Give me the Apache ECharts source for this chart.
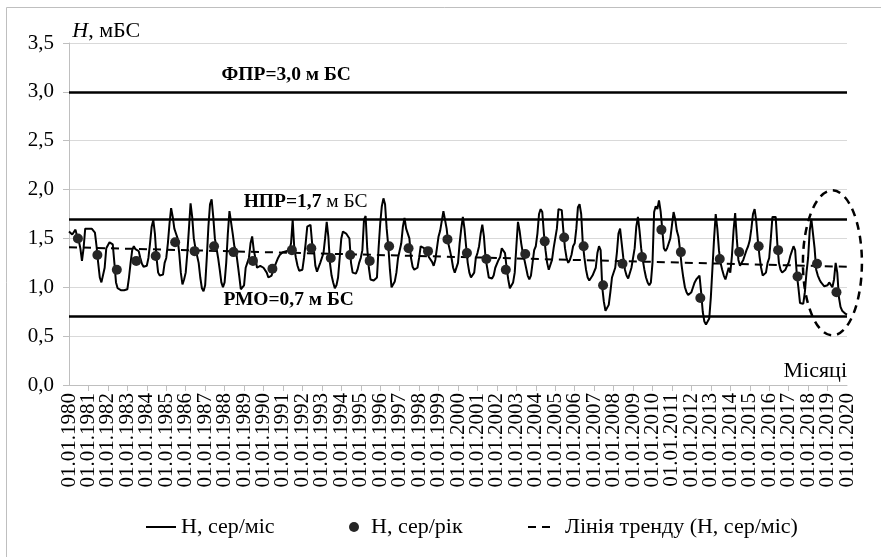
<!DOCTYPE html>
<html>
<head>
<meta charset="utf-8">
<script src="https://cdn.jsdelivr.net/npm/echarts@6/dist/echarts.min.js"></script>
<style>
  html, body { margin: 0; padding: 0; background: #ffffff; }
  #chart { width: 881px; height: 557px; }
</style>
</head>
<body>
<div id="chart"></div>
<script>
// Groundwater level H (m BS), monthly means 01.1980 – 01.2020
const startYear = 1980;
const endYear = 2020;

const monthlyLevel = [
  1.57, 1.55, 1.54, 1.56, 1.59, 1.52, 1.48, 1.40, 1.27, 1.40, 1.60, 1.58, // 1980
  1.60, 1.58, 1.60, 1.59, 1.56, 1.42, 1.25, 1.10, 1.05, 1.04, 1.20, 1.40, // 1981
  1.40, 1.46, 1.47, 1.44, 1.25, 1.05, 0.99, 0.98, 0.97, 0.98, 0.97, 0.99, // 1982
  0.98, 1.10, 1.25, 1.38, 1.42, 1.39, 1.41, 1.37, 1.30, 1.24, 1.21, 1.22, // 1983
  1.22, 1.30, 1.45, 1.62, 1.69, 1.55, 1.30, 1.15, 1.12, 1.12, 1.13, 1.25, // 1984
  1.30, 1.45, 1.65, 1.81, 1.72, 1.60, 1.55, 1.50, 1.35, 1.15, 1.03, 1.08, // 1985
  1.15, 1.35, 1.60, 1.86, 1.72, 1.50, 1.40, 1.38, 1.25, 1.10, 0.99, 0.96, // 1986
  1.02, 1.30, 1.62, 1.85, 1.90, 1.72, 1.50, 1.40, 1.30, 1.18, 1.05, 1.00, // 1987
  1.05, 1.25, 1.55, 1.78, 1.80, 1.55, 1.42, 1.38, 1.25, 1.12, 0.98, 1.00, // 1988
  1.02, 1.20, 1.25, 1.30, 1.45, 1.52, 1.38, 1.30, 1.20, 1.18, 1.22, 1.21, // 1989
  1.20, 1.22, 1.15, 1.10, 1.08, 1.12, 1.18, 1.22, 1.26, 1.30, 1.33, 1.35, // 1990
  1.36, 1.37, 1.37, 1.36, 1.38, 1.45, 1.69, 1.40, 1.30, 1.22, 1.17, 1.16, // 1991
  1.18, 1.30, 1.45, 1.62, 1.62, 1.64, 1.45, 1.40, 1.22, 1.16, 1.18, 1.25, // 1992
  1.30, 1.35, 1.50, 1.67, 1.52, 1.25, 1.12, 1.05, 0.99, 1.02, 1.10, 1.30, // 1993
  1.50, 1.57, 1.56, 1.55, 1.54, 1.50, 1.25, 1.15, 1.13, 1.14, 1.18, 1.25, // 1994
  1.30, 1.38, 1.69, 1.73, 1.40, 1.20, 1.08, 1.06, 1.07, 1.08, 1.10, 1.40, // 1995
  1.65, 1.83, 1.91, 1.85, 1.60, 1.42, 1.18, 1.00, 0.99, 1.06, 1.15, 1.30, // 1996
  1.30, 1.45, 1.62, 1.71, 1.60, 1.59, 1.50, 1.30, 1.21, 1.18, 1.17, 1.20, // 1997
  1.30, 1.42, 1.44, 1.40, 1.38, 1.36, 1.31, 1.30, 1.26, 1.22, 1.28, 1.40, // 1998
  1.52, 1.58, 1.68, 1.78, 1.76, 1.60, 1.45, 1.38, 1.30, 1.20, 1.15, 1.16, // 1999
  1.25, 1.45, 1.60, 1.72, 1.60, 1.42, 1.25, 1.15, 1.10, 1.12, 1.15, 1.30, // 2000
  1.35, 1.42, 1.55, 1.64, 1.52, 1.30, 1.20, 1.10, 1.08, 1.09, 1.12, 1.20, // 2001
  1.22, 1.28, 1.31, 1.40, 1.42, 1.35, 1.20, 1.08, 0.99, 0.97, 1.05, 1.15, // 2002
  1.42, 1.67, 1.58, 1.45, 1.35, 1.28, 1.20, 1.12, 1.08, 1.12, 1.25, 1.38, // 2003
  1.42, 1.55, 1.75, 1.80, 1.77, 1.55, 1.38, 1.25, 1.18, 1.20, 1.28, 1.40, // 2004
  1.38, 1.60, 1.80, 1.82, 1.79, 1.58, 1.40, 1.30, 1.25, 1.28, 1.33, 1.42, // 2005
  1.45, 1.60, 1.82, 1.85, 1.75, 1.45, 1.30, 1.18, 1.10, 1.07, 1.05, 1.12, // 2006
  1.10, 1.20, 1.35, 1.42, 1.38, 1.00, 0.85, 0.76, 0.75, 0.82, 0.95, 1.10, // 2007
  1.12, 1.20, 1.35, 1.55, 1.60, 1.45, 1.30, 1.18, 1.12, 1.09, 1.10, 1.20, // 2008
  1.18, 1.40, 1.62, 1.72, 1.58, 1.40, 1.28, 1.18, 1.10, 1.05, 1.02, 1.05, // 2009
  1.25, 1.77, 1.83, 1.80, 1.89, 1.78, 1.60, 1.40, 1.37, 1.40, 1.42, 1.50, // 2010
  1.52, 1.77, 1.70, 1.58, 1.52, 1.38, 1.22, 1.10, 1.00, 0.95, 0.92, 0.94, // 2011
  0.95, 1.00, 1.05, 1.08, 1.10, 1.12, 0.95, 0.75, 0.65, 0.62, 0.64, 0.68, // 2012
  0.90, 1.20, 1.50, 1.75, 1.60, 1.38, 1.25, 1.18, 1.12, 1.08, 1.10, 1.20, // 2013
  1.15, 1.32, 1.58, 1.76, 1.50, 1.28, 1.22, 1.25, 1.28, 1.33, 1.38, 1.42, // 2014
  1.48, 1.60, 1.75, 1.80, 1.68, 1.48, 1.32, 1.20, 1.12, 1.12, 1.15, 1.25, // 2015
  1.30, 1.50, 1.72, 1.73, 1.72, 1.45, 1.25, 1.18, 1.15, 1.16, 1.18, 1.22, // 2016
  1.25, 1.32, 1.37, 1.42, 1.38, 1.14, 1.00, 0.84, 0.82, 0.83, 0.95, 1.15, // 2017
  1.30, 1.58, 1.70, 1.68, 1.40, 1.18, 1.12, 1.08, 1.05, 1.03, 1.01, 1.00, // 2018
  1.02, 1.05, 1.04, 1.00, 1.08, 1.25, 1.15, 0.90, 0.80, 0.76, 0.74, 0.73, // 2019
  0.72                                                                    // 2020
];

// Annual means, 1980 – 2019
const annualLevel = [
  1.50, 1.33, 1.18, 1.27, 1.32, 1.46, 1.37, 1.42, 1.36, 1.27,
  1.19, 1.38, 1.40, 1.30, 1.33, 1.27, 1.42, 1.40, 1.37, 1.49,
  1.35, 1.29, 1.18, 1.34, 1.47, 1.51, 1.42, 1.02, 1.24, 1.31,
  1.59, 1.36, 0.89, 1.29, 1.36, 1.42, 1.38, 1.11, 1.24, 0.95
];

// Linear trend of the monthly series: value at 01.1980 and at 01.2020
const trendLevel = [1.41, 1.21];

// Characteristic levels
const referenceLevels = [3.0, 1.7, 0.7];
const referenceNames = ['ФПР', 'НПР', 'РМО'];

const yTicks = { min: 0, max: 3.5, step: 0.5 };

const seriesNames = ['H, сер/міс', 'H, сер/рік', 'Лінія тренду (H, сер/міс)'];

// Month categories "01.MM.YYYY"
const categories = [];
for (let y = startYear; y < endYear; y++) {
  for (let m = 1; m <= 12; m++) {
    categories.push('01.' + String(m).padStart(2, '0') + '.' + y);
  }
}
categories.push('01.01.' + endYear);
const lastIndex = categories.length - 1;

const FONT = 'Liberation Serif';
const fmt = v => v.toFixed(1).replace('.', ',');
const isYearStart = i => i % 12 === 0;
const isEdge = i => i === 0 || i === lastIndex;

const chart = echarts.init(document.getElementById('chart'));

const xLabelStyle = {
  rotate: 90,
  margin: 8,
  color: '#000',
  fontFamily: FONT,
  fontSize: 21
};
const legendText = { fontFamily: FONT, fontSize: 22, color: '#000' };
const hiddenMarker = { color: 'rgba(0,0,0,0)', borderWidth: 0, opacity: 0 };

const option = {
  backgroundColor: '#ffffff',
  animation: false,
  textStyle: { fontFamily: FONT },
  grid: { left: 69, right: 34, top: 43, bottom: 172, containLabel: false },
  xAxis: [
    {
      // year ticks and inner year labels
      type: 'category',
      data: categories,
      boundaryGap: false,
      position: 'bottom',
      axisLine: { lineStyle: { color: '#bfbfbf', width: 1 } },
      axisTick: { interval: isYearStart, length: 6, lineStyle: { color: '#bfbfbf' } },
      axisLabel: Object.assign({
        interval: isYearStart,
        showMinLabel: false,
        showMaxLabel: false
      }, xLabelStyle),
      splitLine: { show: false }
    },
    {
      type: 'value',
      min: 0,
      max: lastIndex,
      show: false
    },
    {
      // first and last year labels
      type: 'category',
      data: categories,
      boundaryGap: false,
      position: 'bottom',
      offset: 0,
      axisLine: { show: false },
      axisTick: { show: false },
      axisLabel: Object.assign({
        interval: isEdge,
        showMinLabel: true,
        showMaxLabel: true
      }, xLabelStyle),
      splitLine: { show: false }
    }
  ],
  yAxis: {
    type: 'value',
    min: yTicks.min,
    max: yTicks.max,
    interval: yTicks.step,
    axisLine: { show: true, lineStyle: { color: '#bfbfbf', width: 1 } },
    axisTick: { show: true, length: 6, lineStyle: { color: '#bfbfbf' } },
    axisLabel: { formatter: fmt, color: '#000', fontFamily: FONT, fontSize: 21, margin: 15 },
    splitLine: { lineStyle: { color: '#d9d9d9', width: 1 } }
  },
  legend: [
    {
      data: [seriesNames[0]], left: 145, top: 516, padding: 0, itemWidth: 30, itemHeight: 14,
      itemStyle: hiddenMarker,
      lineStyle: { color: '#000', width: 2, type: 'solid' },
      textStyle: legendText
    },
    {
      data: [seriesNames[1]], left: 349, top: 516, padding: 0, itemWidth: 10, itemHeight: 14,
      textStyle: Object.assign({ padding: [0, 0, 0, 7] }, legendText)
    },
    {
      data: [seriesNames[2]], left: 527, top: 516, padding: 0, itemWidth: 22, itemHeight: 14,
      itemStyle: hiddenMarker,
      lineStyle: { color: '#000', width: 2, type: [8, 6] },
      textStyle: Object.assign({ padding: [0, 0, 0, 10] }, legendText)
    }
  ],
  series: [
    {
      name: seriesNames[0],
      type: 'line',
      xAxisIndex: 0,
      data: monthlyLevel,
      symbol: 'none',
      smooth: false,
      lineStyle: { color: '#000', width: 2 },
      itemStyle: { color: '#000' },
      z: 3,
      markLine: {
        silent: true,
        symbol: ['none', 'none'],
        label: { show: false },
        lineStyle: { color: '#000', width: 2.5, type: 'solid' },
        data: referenceLevels.map(v => ({ yAxis: v }))
      }
    },
    {
      name: seriesNames[1],
      type: 'scatter',
      xAxisIndex: 1,
      data: annualLevel.map((v, i) => [i * 12 + 5.5, v]),
      symbol: 'circle',
      symbolSize: 10,
      itemStyle: { color: '#262626', opacity: 1 },
      z: 5
    },
    {
      name: seriesNames[2],
      type: 'line',
      xAxisIndex: 1,
      data: [[0, trendLevel[0]], [lastIndex, trendLevel[1]]],
      symbol: 'none',
      lineStyle: { color: '#000', width: 2, type: [8, 6] },
      itemStyle: { color: '#000' },
      z: 4
    }
  ]
};

chart.setOption(option);

// Annotations placed in data coordinates (month index, level)
const toPx = (idx, v) => chart.convertToPixel({ xAxisIndex: 1, yAxisIndex: 0 }, [idx, v]);

const pFpr = toPx(134, referenceLevels[0] + 0.17);
const pNpr = toPx(146, referenceLevels[1] + 0.17);
const pRmo = toPx(135.5, referenceLevels[2] + 0.17);
const pTitle = toPx(2, 3.62);
const pMonths = toPx(lastIndex, 0.14);
const pEllipse = toPx(471, 1.25);

chart.setOption({
  graphic: [
    {
      type: 'rect',
      silent: true,
      shape: { x: 6.5, y: 7.5, width: 900, height: 600 },
      style: { fill: 'none', stroke: '#bfbfbf', lineWidth: 1 },
      z: -10
    },
    {
      type: 'text',
      silent: true,
      x: pTitle[0], y: pTitle[1],
      style: {
        text: '{i|H}, мБС',
        rich: { i: { fontStyle: 'italic', fontFamily: FONT, fontSize: 22, fill: '#000' } },
        fontFamily: FONT, fontSize: 22, fill: '#000',
        align: 'left', verticalAlign: 'middle'
      }
    },
    {
      type: 'text',
      silent: true,
      x: pFpr[0], y: pFpr[1],
      style: {
        text: referenceNames[0] + '=' + fmt(referenceLevels[0]) + ' м БС',
        fontFamily: FONT, fontSize: 19.5, fontWeight: 'bold', fill: '#000',
        align: 'center', verticalAlign: 'middle'
      }
    },
    {
      type: 'text',
      silent: true,
      x: pNpr[0], y: pNpr[1],
      style: {
        text: '{b|' + referenceNames[1] + '=' + fmt(referenceLevels[1]) + '} м БС',
        rich: { b: { fontWeight: 'bold', fontFamily: FONT, fontSize: 19.5, fill: '#000' } },
        fontFamily: FONT, fontSize: 19.5, fill: '#000',
        align: 'center', verticalAlign: 'middle'
      }
    },
    {
      type: 'text',
      silent: true,
      x: pRmo[0], y: pRmo[1],
      style: {
        text: referenceNames[2] + '=' + fmt(referenceLevels[2]) + ' м БС',
        fontFamily: FONT, fontSize: 19.5, fontWeight: 'bold', fill: '#000',
        align: 'center', verticalAlign: 'middle'
      }
    },
    {
      type: 'text',
      silent: true,
      x: pMonths[0], y: pMonths[1],
      style: {
        text: 'Місяці',
        fontFamily: FONT, fontSize: 22, fill: '#000',
        align: 'right', verticalAlign: 'middle'
      }
    },
    {
      type: 'ellipse',
      silent: true,
      shape: { cx: pEllipse[0], cy: pEllipse[1], rx: 29.5, ry: 72.5 },
      style: { fill: 'none', stroke: '#000', lineWidth: 2.5, lineDash: [8, 6] },
      z: 10
    }
  ]
});
</script>
</body>
</html>
